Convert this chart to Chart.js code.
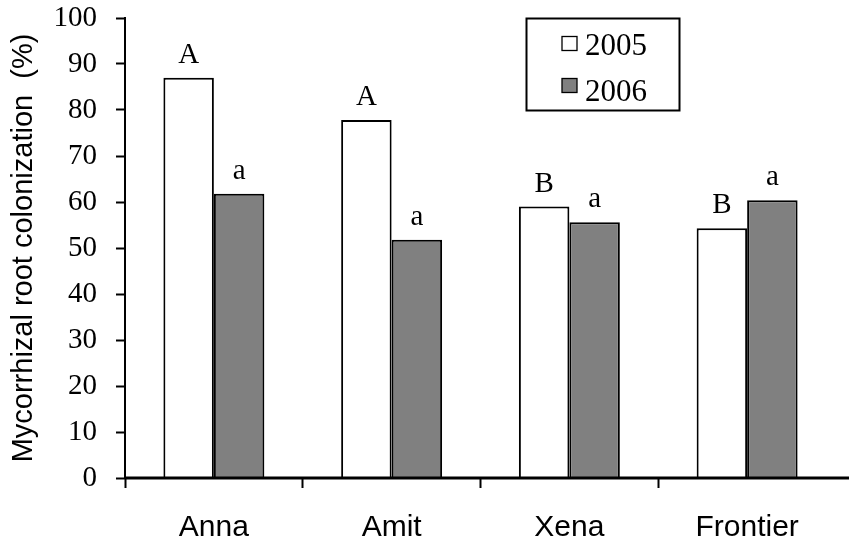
<!DOCTYPE html>
<html>
<head>
<meta charset="utf-8">
<script src="https://cdn.jsdelivr.net/npm/chart.js@4.4.1/dist/chart.umd.min.js"></script>
<style>
  html, body { margin: 0; padding: 0; background: #ffffff; }
  #wrap { width: 849px; height: 543px; }
</style>
</head>
<body>
<div id="wrap"><canvas id="c" width="849" height="543"></canvas></div>
<script>
// Mycorrhizal root colonization (%) per cultivar, two seasons
const cultivars = ['Anna', 'Amit', 'Xena', 'Frontier'];
const years = ['2005', '2006'];
const colonization2005 = [87.0, 77.8, 59.0, 54.3];
const colonization2006 = [61.8, 51.8, 55.6, 60.4];
// Significance letters (upper case: 2005, lower case: 2006)
const letters2005 = ['A', 'A', 'B', 'B'];
const letters2006 = ['a', 'a', 'a', 'a'];
const yTickValues = [0, 10, 20, 30, 40, 50, 60, 70, 80, 90, 100];

const SERIF = '"Liberation Serif", "Times New Roman", serif';
const SANS = '"Liberation Sans", Arial, sans-serif';

// Letters written above each bar
const letterPlugin = {
  id: 'letterPlugin',
  afterDatasetsDraw(chart) {
    const ctx = chart.ctx;
    const sets = [letters2005, letters2006];
    ctx.save();
    ctx.fillStyle = '#000';
    ctx.font = '29px ' + SERIF;
    ctx.textAlign = 'center';
    ctx.textBaseline = 'alphabetic';
    chart.data.datasets.forEach((ds, di) => {
      const meta = chart.getDatasetMeta(di);
      meta.data.forEach((bar, i) => {
        ctx.fillText(sets[di][i], bar.x, bar.y - 15);
      });
    });
    ctx.restore();
  }
};

// Axis lines and boxed legend
const framePlugin = {
  id: 'framePlugin',
  afterDraw(chart) {
    const ctx = chart.ctx;
    const a = chart.chartArea;
    ctx.save();
    // category axis line running to the right edge
    ctx.strokeStyle = '#000';
    ctx.lineWidth = 3;
    ctx.beginPath();
    ctx.moveTo(a.left - 1, a.bottom);
    ctx.lineTo(chart.width, a.bottom);
    ctx.stroke();

    // legend box
    const bx = 526.5, by = 18.5, bw = 153, bh = 92;
    ctx.lineWidth = 2;
    ctx.fillStyle = '#fff';
    ctx.fillRect(bx, by, bw, bh);
    ctx.strokeRect(bx, by, bw, bh);
    ctx.font = '31px ' + SERIF;
    ctx.textAlign = 'left';
    ctx.textBaseline = 'alphabetic';
    chart.data.datasets.forEach((ds, i) => {
      const my = 36.5 + i * 42;
      ctx.fillStyle = ds.backgroundColor;
      ctx.fillRect(562, my, 15, 14);
      ctx.lineWidth = 1.3;
      ctx.strokeStyle = '#000';
      ctx.strokeRect(562, my, 15, 14);
      ctx.fillStyle = '#000';
      ctx.fillText(ds.label, 585, 55 + i * 45.5);
    });
    ctx.restore();
  }
};

new Chart(document.getElementById('c'), {
  type: 'bar',
  data: {
    labels: cultivars,
    datasets: [
      {
        label: years[0],
        data: colonization2005,
        backgroundColor: '#ffffff',
        borderColor: '#000000',
        borderWidth: 2,
        borderSkipped: 'bottom'
      },
      {
        label: years[1],
        data: colonization2006,
        backgroundColor: '#808080',
        borderColor: '#000000',
        borderWidth: 2,
        borderSkipped: 'bottom'
      }
    ]
  },
  options: {
    responsive: false,
    animation: false,
    devicePixelRatio: 1,
    layout: { padding: { left: 0, right: 13, top: 0, bottom: 0 } },
    datasets: { bar: { categoryPercentage: 0.568, barPercentage: 1.0 } },
    plugins: {
      legend: { display: false },
      tooltip: { enabled: false }
    },
    scales: {
      x: {
        offset: true,
        grid: {
          offset: true,
          drawOnChartArea: false,
          drawTicks: true,
          tickLength: 10,
          tickWidth: 2,
          tickColor: (c) => (c.type === 'tick' ? '#000' : 'rgba(0,0,0,0)')
        },
        border: { display: false },
        ticks: {
          color: '#000',
          font: { family: SANS, size: 30 },
          padding: 22,
          maxRotation: 0
        },
        afterFit(scale) { scale.height = 65; }
      },
      y: {
        min: 0,
        max: 100,
        afterBuildTicks(scale) { scale.ticks = yTickValues.map(v => ({ value: v })); },
        grid: {
          drawOnChartArea: false,
          drawTicks: true,
          tickLength: 9,
          tickWidth: 2,
          tickColor: '#000'
        },
        border: { display: true, color: '#000', width: 2 },
        ticks: {
          color: '#000',
          font: { family: SERIF, size: 29 },
          padding: 19
        },
        title: {
          display: true,
          text: 'Mycorrhizal root colonization  (%)',
          color: '#000',
          font: { family: SANS, size: 29 },
          padding: { top: 7, bottom: 0 }
        },
        afterFit(scale) {
          scale.width = 125;
          scale.paddingTop = 18;
          scale.paddingBottom = 0;
        }
      }
    }
  },
  plugins: [letterPlugin, framePlugin]
});
</script>
</body>
</html>
